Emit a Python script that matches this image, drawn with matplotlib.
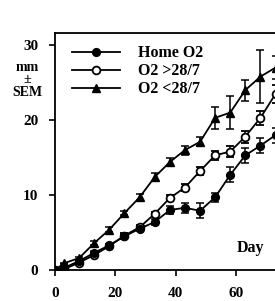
import matplotlib
matplotlib.use('Agg')
from matplotlib import pyplot as plt

days = [0, 3, 8, 13, 18, 23, 28, 33, 38, 43, 48, 53, 58, 63, 68, 73]
home_o2 = [0, 0.3, 1.2, 2.3, 3.3, 4.5, 5.5, 6.4, 8.0, 8.3, 7.9, 9.7, 12.7, 15.3, 16.6, 18.0]
home_sem = [0, 0, 0.2, 0.2, 0.2, 0.3, 0.3, 0.4, 0.5, 0.7, 1.0, 0.6, 1.0, 1.0, 1.0, 1.0]
o2_gt = [0, 0.1, 1.0, 2.0, 3.2, 4.6, 5.7, 7.5, 9.6, 11.0, 13.2, 15.3, 15.8, 17.8, 20.3, 23.5]
gt_sem = [0, 0, 0.2, 0.2, 0.3, 0.3, 0.3, 0.3, 0.4, 0.5, 0.5, 0.6, 0.7, 0.8, 0.9, 1.2]
o2_lt = [0, 0.9, 1.6, 3.6, 5.4, 7.6, 9.7, 12.4, 14.4, 16.0, 17.1, 20.3, 21.0, 24.0, 25.8, 27.0]
lt_sem = [0, 0.1, 0.2, 0.3, 0.3, 0.3, 0.4, 0.5, 0.5, 0.6, 0.6, 1.5, 2.2, 1.4, 3.5, 1.5]

labels = ['Home O2', 'O2 >28/7', 'O2 <28/7']
yticks = [0, 10, 20, 30]
xticks = [0, 20, 40, 60]

plt.rcParams['font.family'] = ['Liberation Serif', 'DejaVu Serif']
plt.rcParams['font.weight'] = 'bold'

fig = plt.figure(figsize=(2.75, 3.01), dpi=100)
ax = fig.add_axes([0.2, 0.103, 0.879, 0.787])

kw = dict(color='black', lw=1.3, ms=5.6, capsize=2.6, elinewidth=1.1, capthick=1.1)
e_lt = ax.errorbar(days, o2_lt, yerr=lt_sem, marker='^', mfc='black', zorder=3, **kw)
e_gt = ax.errorbar(days, o2_gt, yerr=gt_sem, marker='o', mfc='white', mew=1.3, zorder=4, **kw)
e_home = ax.errorbar(days, home_o2, yerr=home_sem, marker='o', mfc='black', zorder=5, **kw)

ax.set_xlim(0, 80)
ax.set_ylim(0, 31.6)
ax.set_xticks(xticks)
ax.set_yticks(yticks)
ax.tick_params(direction='out', length=4, width=1.2, labelsize=11)
ax.tick_params(axis='y', pad=8)
ax.tick_params(axis='x', pad=8)
for s in ax.spines.values():
    s.set_linewidth(1.3)

# legend uses just the line+marker part, no error bars
ax.legend([e_home[0], e_gt[0], e_lt[0]], labels, loc='upper left',
          frameon=False, handlelength=3.0, fontsize=11.5, borderaxespad=0.0,
          labelspacing=0.12, handletextpad=1.1, bbox_to_anchor=(0.045, 0.975))

fig.text(0.098, 0.735, 'mm\n±\nSEM', fontsize=10, fontweight='bold', ha='center', va='center',
         linespacing=0.95)
ax.text(60.3, 2.9, 'Day', fontsize=11.5, fontweight='bold', ha='left', va='center')

fig.savefig('out.png', dpi=100)
